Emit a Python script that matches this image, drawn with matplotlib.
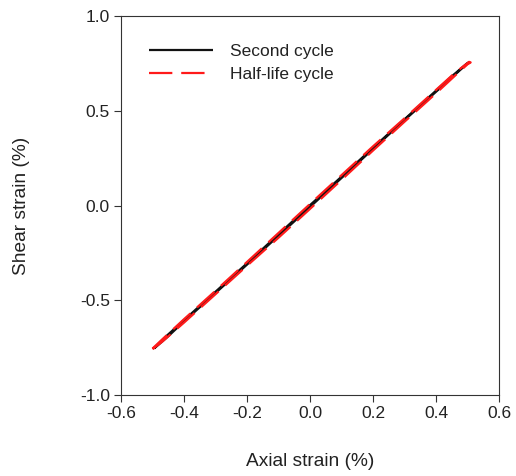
import matplotlib
matplotlib.use("Agg")
import matplotlib.pyplot as plt

plt.rcParams['font.family'] = ['Liberation Sans', 'DejaVu Sans']

# Second cycle: loading branch then unloading branch (axial %, shear %)
second_x = [-0.495, -0.45, -0.40, -0.30, -0.20, -0.10, 0.00, 0.10, 0.20, 0.30, 0.40, 0.46, 0.495, 0.505,
            0.50, 0.45, 0.40, 0.30, 0.20, 0.10, 0.00, -0.10, -0.20, -0.30, -0.40, -0.46, -0.495]
second_y = [-0.755, -0.690, -0.612, -0.462, -0.312, -0.160, -0.008, 0.145, 0.298, 0.450, 0.600, 0.690, 0.742, 0.755,
            0.752, 0.682, 0.606, 0.455, 0.305, 0.152, 0.002, -0.152, -0.305, -0.455, -0.605, -0.695, -0.752]

# Half-life cycle
half_x = [-0.500, -0.47, -0.40, -0.30, -0.20, -0.10, 0.00, 0.10, 0.20, 0.30, 0.40, 0.47, 0.500, 0.510,
          0.505, 0.46, 0.40, 0.30, 0.20, 0.10, 0.00, -0.10, -0.20, -0.30, -0.40, -0.47, -0.500]
half_y = [-0.758, -0.720, -0.618, -0.468, -0.318, -0.170, -0.018, 0.135, 0.290, 0.442, 0.592, 0.700, 0.745, 0.755,
          0.758, 0.700, 0.610, 0.460, 0.312, 0.160, 0.008, -0.145, -0.298, -0.450, -0.600, -0.708, -0.755]

x_ticks = [-0.6, -0.4, -0.2, 0.0, 0.2, 0.4, 0.6]
y_ticks = [-1.0, -0.5, 0.0, 0.5, 1.0]

fig = plt.figure(figsize=(5.16, 4.76), dpi=100)
ax = fig.add_axes([121/516, 1 - 395/476, 378/516, 379/476])

ax.plot(second_x, second_y, color='#111111', lw=1.6, label='Second cycle', solid_capstyle='butt')
ax.plot(half_x, half_y, color='#ff1a1a', lw=1.6, dashes=(10.5, 4.0), dash_capstyle='butt',
        label='Half-life cycle')

ax.set_xlim(-0.6, 0.6)
ax.set_ylim(-1.0, 1.0)
ax.set_xticks(x_ticks)
ax.set_yticks(y_ticks)
ax.set_xticklabels([f"{v:.1f}" for v in x_ticks])
ax.set_yticklabels([f"{v:.1f}" for v in y_ticks])
ax.tick_params(direction='out', length=5, width=0.8, labelsize=12.5, color='#333333',
               labelcolor='#222222', pad=3)
for s in ax.spines.values():
    s.set_linewidth(0.8)
    s.set_color('#333333')

ax.set_xlabel('Axial strain (%)', fontsize=13.8, color='#222222', labelpad=23)
ax.set_ylabel('Shear strain (%)', fontsize=13.8, color='#222222', labelpad=36)

leg = ax.legend(loc='upper left', frameon=False, fontsize=12.5, handlelength=3.7,
                handletextpad=1.0, labelspacing=0.45, bbox_to_anchor=(0.0, 1.0),
                borderaxespad=0.0, borderpad=1.6)
for t in leg.get_texts():
    t.set_color('#222222')

fig.savefig('out.png', dpi=100)
